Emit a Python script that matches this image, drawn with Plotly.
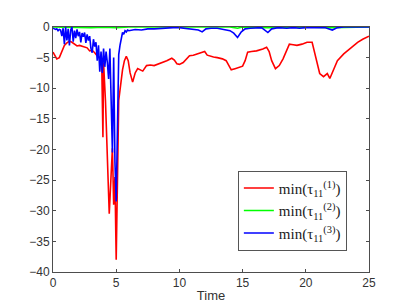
import plotly.graph_objects as go

# ---- data ----
t_red = [0, 0.15, 0.3, 0.5, 0.7, 0.9, 1.1, 1.3, 1.5, 1.7, 1.9, 2.1, 2.4, 2.7, 2.9, 3.1, 3.3, 3.5, 3.7, 3.85,
         3.95, 4.0, 4.15, 4.3, 4.45, 4.6, 4.7, 4.8, 4.9, 5.0, 5.1, 5.2, 5.35, 5.5, 5.65, 5.8, 5.95, 6.1, 6.3,
         6.5, 6.7, 6.9, 7.1, 7.4, 7.7, 8.0, 8.4, 8.7, 9.0, 9.4, 9.6, 9.8, 10.0, 10.3, 10.6, 10.8, 11.1, 11.4,
         11.8, 12.0, 12.2, 12.5, 12.7, 13.0, 13.4, 13.7, 14.0, 14.1, 14.4, 14.8, 15.0, 15.2, 15.4, 15.7, 16.1,
         16.6, 16.9, 17.1, 17.3, 17.6, 17.9, 18.2, 18.5, 18.7, 19.0, 19.3, 19.7, 20.1, 20.5, 20.7, 20.9, 21.1,
         21.4, 21.7, 21.9, 22.2, 22.5, 23.0, 23.6, 24.1, 24.5, 24.8, 25.0]
v_red = [-4.1, -4.6, -5.2, -5.0, -4.0, -3.0, -2.6, -2.3, -2.5, -2.8, -3.1, -3.0, -3.2, -3.4, -3.9, -3.8, -4.2,
         -4.7, -5.0, -5.3, -18.0, -5.8, -12.0, -22.0, -30.5, -24.0, -19.8, -29.0, -24.5, -38.0, -22.0, -12.0,
         -9.5, -7.0, -5.5, -4.8, -5.5, -7.5, -9.0, -7.5, -6.8, -7.0, -7.2, -6.3, -6.2, -6.3, -6.0, -5.8, -5.5,
         -5.1, -5.4, -6.0, -6.1, -5.8, -5.2, -4.7, -4.6, -4.4, -4.1, -4.0, -4.6, -4.8, -4.9, -5.0, -5.2, -5.5,
         -6.5, -7.0, -6.8, -6.5, -6.4, -5.5, -4.1, -4.0, -3.9, -3.6, -3.3, -4.0, -5.5, -6.8, -6.3, -5.2, -3.8,
         -2.8, -2.9, -3.0, -2.8, -2.5, -2.5, -4.1, -6.0, -7.6, -8.1, -7.6, -8.4, -6.8, -5.5, -4.4, -3.3, -2.5,
         -2.0, -1.7, -1.5]

t_green = [0, 1, 2, 3, 4, 5, 6, 10, 14, 14.6, 15, 17, 20, 22, 25]
v_green = [0, -0.05, 0, -0.1, -0.05, -0.1, 0, 0, 0, -0.2, 0, -0.1, 0, -0.1, 0]

t_blue = [0.0, 0.1, 0.2, 0.3, 0.4, 0.5, 0.6, 0.7, 0.8, 0.9, 1.0, 1.1, 1.2, 1.3, 1.4, 1.5, 1.6, 1.7, 1.8, 1.9,
          2.0, 2.1, 2.2, 2.3, 2.4, 2.5, 2.6, 2.7, 2.8, 2.9, 3.0, 3.1, 3.2, 3.3, 3.4, 3.5, 3.6, 3.7, 3.8, 3.9,
          4.0, 4.1, 4.2, 4.3, 4.4, 4.5, 4.6, 4.7, 4.8, 4.9, 5.0, 5.1, 5.2, 5.3, 5.4, 5.5, 5.6, 5.7, 5.8, 5.9,
          6.0, 6.5, 7.0, 7.5, 8.0, 8.5, 9.0, 9.5, 10.0, 10.5, 11.0, 11.5, 11.8, 12.1, 12.5, 13.0, 13.5, 14.0,
          14.3, 14.6, 14.9, 15.2, 15.6, 16.0, 16.5, 17.0, 17.3, 17.8, 18.5, 19.0, 19.5, 20.0, 20.5, 21.0, 21.5,
          22.1, 22.5, 23.0, 25.0]
v_blue = [-0.2, -0.3, -0.4, -0.3, -0.6, -0.4, -0.5, -1.5, -0.2, -2.8, 0.0, -2.2, -0.3, -3.0, -0.5, 0.0, -2.4,
          -0.6, -1.8, -0.4, -1.5, -0.8, -2.5, -1.0, -1.6, -0.9, -2.6, -1.2, -2.2, -1.5, -3.5, -4.2, -2.0, -3.2,
          -2.5, -5.5, -3.0, -7.3, -4.0, -7.5, -3.5, -6.5, -4.0, -5.8, -8.5, -3.5, -12.0, -20.5, -5.0, -22.0,
          -28.5, -14.0, -4.5, -3.0, -1.8, -0.9, -1.2, -0.6, -0.8, -0.5, -0.6, -0.4, -0.5, -0.3, -0.3, -0.2,
          -0.2, -0.1, -0.1, -0.2, -0.3, -0.5, -0.8, -0.3, -0.2, -0.2, -0.4, -0.6, -1.0, -1.7, -0.8, -0.3, -0.2,
          -0.2, -0.1, -0.9, -0.3, -0.1, -0.2, -0.1, -0.2, -0.1, -0.1, -0.1, -0.1, -0.5, -0.1, 0.0, 0.0]

names = ["min(τ<sub>11</sub><sup>(1)</sup>)",
         "min(τ<sub>11</sub><sup>(2)</sup>)",
         "min(τ<sub>11</sub><sup>(3)</sup>)"]

fig = go.Figure()
fig.add_trace(go.Scatter(x=t_red, y=v_red, mode="lines", name=names[0],
                         line=dict(color="#ff0000", width=1.6)))
fig.add_trace(go.Scatter(x=t_green, y=v_green, mode="lines", name=names[1],
                         line=dict(color="#00ff00", width=1.6)))
fig.add_trace(go.Scatter(x=t_blue, y=v_blue, mode="lines", name=names[2],
                         line=dict(color="#0000ff", width=1.6)))

axis_common = dict(showgrid=False, zeroline=False, showline=True, linecolor="#4d4d4d", linewidth=1,
                   mirror="allticks", ticks="inside", ticklen=3, tickcolor="#4d4d4d",
                   tickfont=dict(family="Liberation Sans, Arial", size=12, color="#333333"))

fig.update_layout(
    width=408, height=306,
    margin=dict(l=45, r=47, t=14, b=42),
    paper_bgcolor="white", plot_bgcolor="white",
    xaxis=dict(range=[0, 25], dtick=5, tick0=0,
               title=dict(text="Time", standoff=1,
                          font=dict(family="Liberation Sans, Arial", size=13, color="#333333")),
               **axis_common),
    yaxis=dict(range=[-40, 0], dtick=5, tick0=0, **axis_common),
    legend=dict(x=0.585, y=0.413, xanchor="left", yanchor="top",
                bgcolor="white", bordercolor="#555555", borderwidth=1,
                font=dict(family="Liberation Serif, DejaVu Serif", size=15, color="#222222"),
                tracegroupgap=0, itemwidth=30),
    showlegend=True,
)

fig.write_html("out.html")
